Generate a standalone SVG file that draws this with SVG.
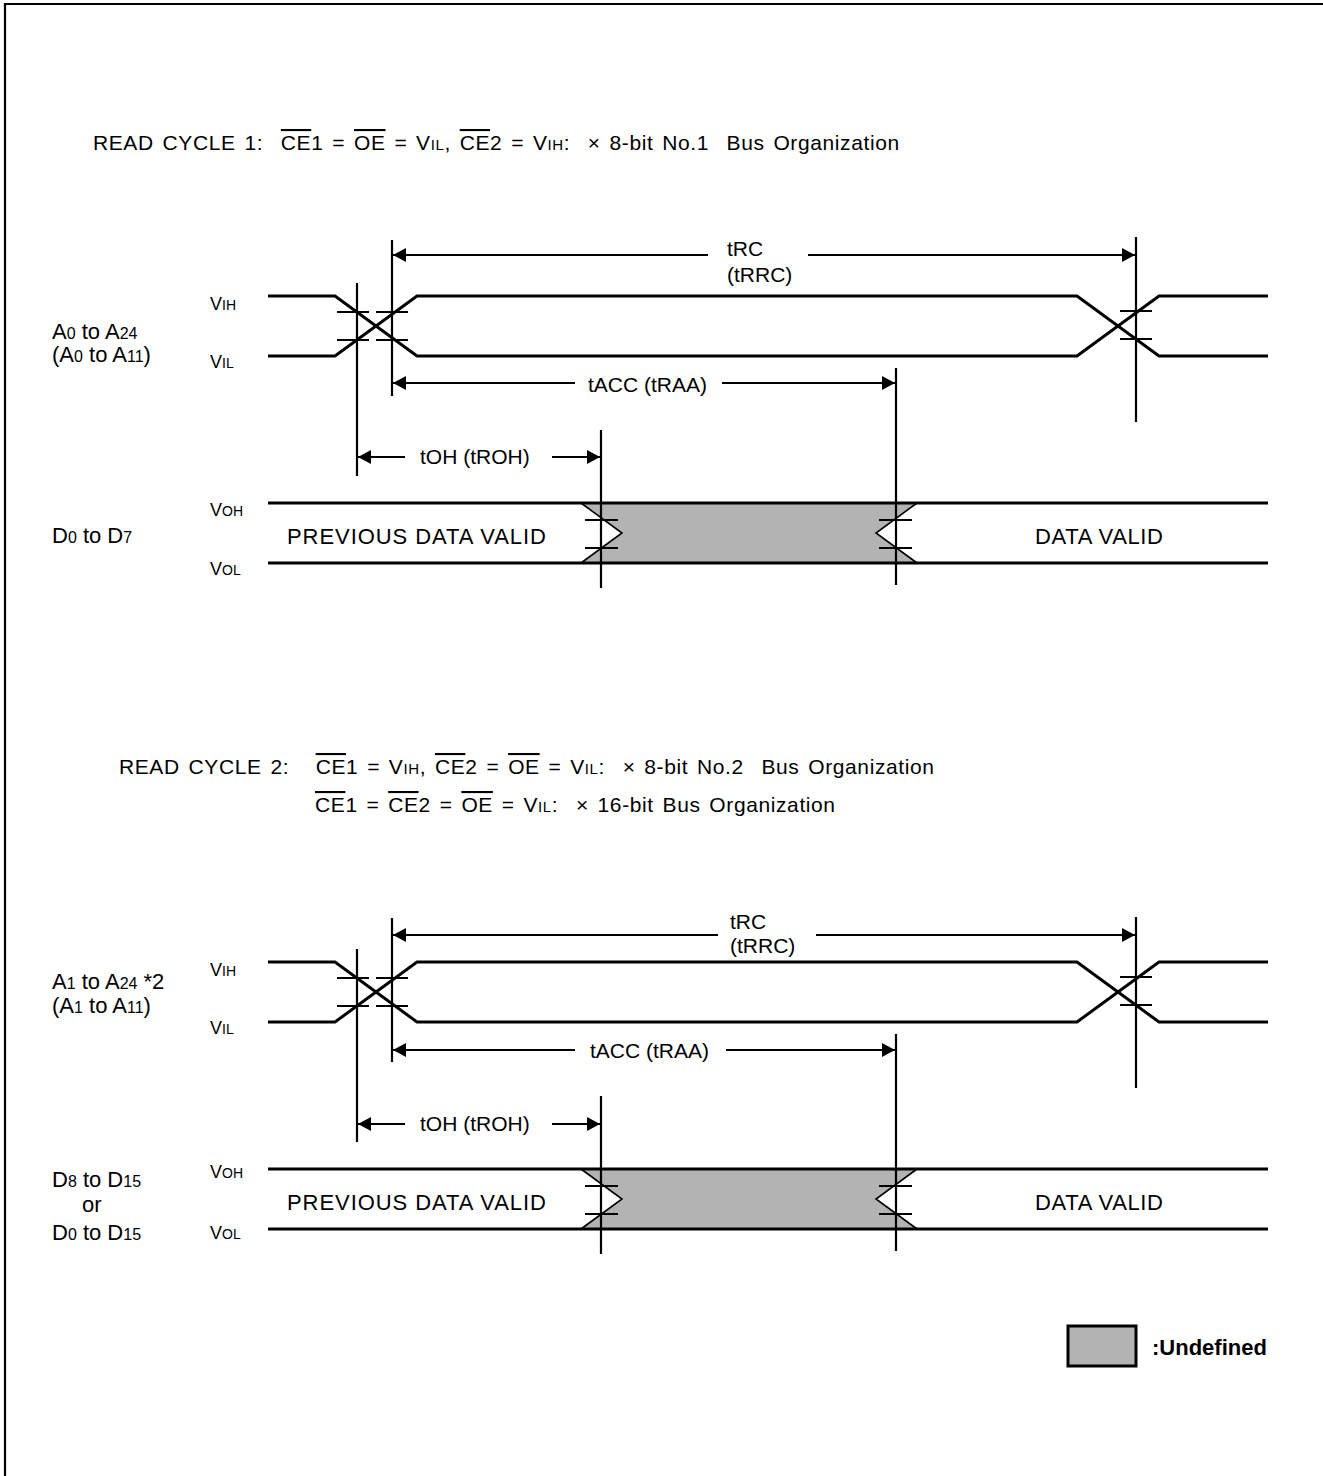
<svg xmlns="http://www.w3.org/2000/svg" width="1323" height="1476" viewBox="0 0 1323 1476">
<style>
text{font-family:"Liberation Sans",Arial,sans-serif;fill:#000}
.t{font-size:21px;letter-spacing:0.6px;word-spacing:2.4px}
.tm{font-size:21px}
.l{font-size:22px}
.v{font-size:18px}
.s{font-size:15px}
.vs{font-size:14px}
.ls{font-size:16px}
.ov{text-decoration:overline}
.b{font-weight:bold;font-size:22px}
.sig{stroke:#000;stroke-width:3;fill:none}
.vl{stroke:#000;stroke-width:2.2;fill:none}
.tk{stroke:#000;stroke-width:2;fill:none}
.ch{stroke:#000;stroke-width:1.6;fill:none}
.und{fill:#b3b3b3;stroke:none}
.ar{stroke:#000;stroke-width:2;fill:none}
</style>
<defs>
<marker id="ah" markerUnits="userSpaceOnUse" markerWidth="14" markerHeight="14" refX="13" refY="7" orient="auto">
<path d="M0,0 L13,7 L0,14 Z" fill="#000"/>
</marker>
</defs>
<g id="frame"><path d="M5,1476 V4 H1323" class="vl"/></g>

<g id="title1"><text x="93" y="150" class="t" xml:space="preserve">READ CYCLE 1:  <tspan class="ov">CE</tspan>1 = <tspan class="ov">OE</tspan> = V<tspan class="s">IL</tspan>, <tspan class="ov">CE</tspan>2 = V<tspan class="s">IH</tspan>:  × 8-bit No.1  Bus Organization</text></g>

<g id="cycle1">
<g id="c1-labels">
<text x="52" y="339" class="l">A<tspan class="ls">0</tspan> to A<tspan class="ls">24</tspan></text>
<text x="52" y="362" class="l">(A<tspan class="ls">0</tspan> to A<tspan class="ls">11</tspan>)</text>
<text x="210" y="310" class="v">V<tspan class="vs">IH</tspan></text>
<text x="210" y="368" class="v">V<tspan class="vs">IL</tspan></text>
<text x="52" y="543" class="l">D<tspan class="ls">0</tspan> to D<tspan class="ls">7</tspan></text>
<text x="210" y="516" class="v">V<tspan class="vs">OH</tspan></text>
<text x="210" y="575" class="v">V<tspan class="vs">OL</tspan></text>
</g>
<g id="c1-address">
<path class="sig" d="M268,296 H335 L417,356 H1077 L1159,296 H1268"/>
<path class="sig" d="M268,356 H335 L417,296 H1077 L1159,356 H1268"/>
</g>
<g id="c1-data">
<path class="und" d="M581,503 H917 L876,533 L917,563 H581 L622,533 Z"/>
<path class="ch" d="M581,503 L622,533 L581,563 M917,503 L876,533 L917,563"/>
<path class="sig" d="M268,503 H1268 M268,563 H1268"/>
<text x="287" y="544" class="l" textLength="259">PREVIOUS DATA VALID</text>
<text x="1035" y="544" class="l" textLength="128">DATA VALID</text>
</g>
<g id="c1-marks">
<path class="vl" d="M357,283 V476 M392,240 V396 M1136,237 V422 M896,368 V585 M601,430 V588"/>
<path class="tk" d="M337,312 H369 M337,340 H369 M376,312 H408 M376,340 H408 M1120,311 H1152 M1120,339 H1152 M585,520 H618 M585,548 H618 M879,520 H912 M879,548 H912"/>
</g>
<g id="c1-timing">
<path class="ar" d="M708,255 H393" marker-end="url(#ah)"/>
<path class="ar" d="M808,255 H1135" marker-end="url(#ah)"/>
<text x="727" y="256" class="tm">tRC</text>
<text x="727" y="282" class="tm">(tRRC)</text>
<path class="ar" d="M575,383 H393" marker-end="url(#ah)"/>
<path class="ar" d="M722,383 H895" marker-end="url(#ah)"/>
<text x="588" y="392" class="tm">tACC (tRAA)</text>
<path class="ar" d="M405,457 H358" marker-end="url(#ah)"/>
<path class="ar" d="M552,457 H600" marker-end="url(#ah)"/>
<text x="420" y="464" class="tm">tOH (tROH)</text>
</g>
</g>

<g id="title2">
<text x="119" y="774" class="t" xml:space="preserve">READ CYCLE 2:   <tspan class="ov">CE</tspan>1 = V<tspan class="s">IH</tspan>, <tspan class="ov">CE</tspan>2 = <tspan class="ov">OE</tspan> = V<tspan class="s">IL</tspan>:  × 8-bit No.2  Bus Organization</text>
<text x="315" y="812" class="t" xml:space="preserve"><tspan class="ov">CE</tspan>1 = <tspan class="ov">CE</tspan>2 = <tspan class="ov">OE</tspan> = V<tspan class="s">IL</tspan>:  × 16-bit Bus Organization</text>
</g>

<g id="cycle2">
<g id="c2-labels">
<text x="52" y="989" class="l">A<tspan class="ls">1</tspan> to A<tspan class="ls">24</tspan> *2</text>
<text x="52" y="1013" class="l">(A<tspan class="ls">1</tspan> to A<tspan class="ls">11</tspan>)</text>
<text x="210" y="976" class="v">V<tspan class="vs">IH</tspan></text>
<text x="210" y="1034" class="v">V<tspan class="vs">IL</tspan></text>
<text x="52" y="1187" class="l">D<tspan class="ls">8</tspan> to D<tspan class="ls">15</tspan></text>
<text x="82" y="1212" class="l">or</text>
<text x="52" y="1240" class="l">D<tspan class="ls">0</tspan> to D<tspan class="ls">15</tspan></text>
<text x="210" y="1178" class="v">V<tspan class="vs">OH</tspan></text>
<text x="210" y="1239" class="v">V<tspan class="vs">OL</tspan></text>
</g>
<g id="c2-address">
<path class="sig" d="M268,962 H335 L417,1022 H1077 L1159,962 H1268"/>
<path class="sig" d="M268,1022 H335 L417,962 H1077 L1159,1022 H1268"/>
</g>
<g id="c2-data">
<path class="und" d="M581,1169 H917 L876,1199 L917,1229 H581 L622,1199 Z"/>
<path class="ch" d="M581,1169 L622,1199 L581,1229 M917,1169 L876,1199 L917,1229"/>
<path class="sig" d="M268,1169 H1268 M268,1229 H1268"/>
<text x="287" y="1210" class="l" textLength="259">PREVIOUS DATA VALID</text>
<text x="1035" y="1210" class="l" textLength="128">DATA VALID</text>
</g>
<g id="c2-marks">
<path class="vl" d="M357,949 V1142 M392,918 V1062 M1136,917 V1088 M896,1034 V1251 M601,1096 V1254"/>
<path class="tk" d="M337,978 H369 M337,1006 H369 M376,978 H408 M376,1006 H408 M1120,977 H1152 M1120,1005 H1152 M585,1186 H618 M585,1214 H618 M879,1186 H912 M879,1214 H912"/>
</g>
<g id="c2-timing">
<path class="ar" d="M718,935 H393" marker-end="url(#ah)"/>
<path class="ar" d="M816,935 H1135" marker-end="url(#ah)"/>
<text x="730" y="929" class="tm">tRC</text>
<text x="730" y="953" class="tm">(tRRC)</text>
<path class="ar" d="M575,1050 H393" marker-end="url(#ah)"/>
<path class="ar" d="M726,1050 H895" marker-end="url(#ah)"/>
<text x="590" y="1058" class="tm">tACC (tRAA)</text>
<path class="ar" d="M405,1124 H358" marker-end="url(#ah)"/>
<path class="ar" d="M552,1124 H600" marker-end="url(#ah)"/>
<text x="420" y="1131" class="tm">tOH (tROH)</text>
</g>
</g>

<g id="legend">
<rect x="1068" y="1326" width="68" height="40" fill="#b3b3b3" stroke="#000" stroke-width="3"/>
<text x="1152" y="1355" class="b">:Undefined</text>
</g>
</svg>
